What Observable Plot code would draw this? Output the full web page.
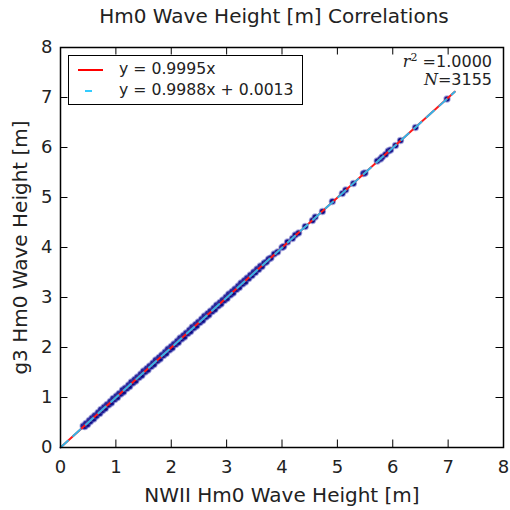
<!DOCTYPE html>
<html><head><meta charset="utf-8">
<script src="https://cdn.jsdelivr.net/npm/d3@7"></script>
<script src="https://cdn.jsdelivr.net/npm/@observablehq/plot@0.6"></script>
<style>
body{margin:0;background:#fff;font-family:"DejaVu Sans",sans-serif;color:#222;}
#wrap{position:relative;width:510px;height:510px;overflow:hidden;}
#title{position:absolute;left:0;top:4px;width:548px;text-align:center;font-size:20px;line-height:24px;color:#222;}
#chart{position:absolute;left:0;top:35px;}
#legend{position:absolute;left:68px;top:55px;width:233px;height:48px;border:1.5px solid #000;background:#fff;font-size:15.7px;}
.lrow{position:absolute;left:0;height:20px;line-height:20px;}
.lrow span{position:absolute;left:50px;white-space:nowrap;}
.sw{position:absolute;height:0;top:10px;border-top:2px solid;}
#ann{position:absolute;right:18px;top:49px;text-align:right;font-size:16px;line-height:18px;}
.m{font-family:"DejaVu Serif",serif;font-style:italic;}
.s{font-family:"DejaVu Serif",serif;}
</style></head>
<body>
<div id="wrap">
  <div id="title">Hm0 Wave Height [m] Correlations</div>
  <div id="chart"></div>
  <div id="legend">
    <div class="lrow" style="top:3px;width:230px"><div class="sw" style="left:9px;width:25px;border-color:#ff0000"></div><span>y = 0.9995x</span></div>
    <div class="lrow" style="top:24px;width:230px"><div class="sw" style="left:16px;width:7px;border-color:#33ccff"></div><span>y = 0.9988x + 0.0013</span></div>
  </div>
  <div id="ann">
    <div><span class="m">r</span><sup style="font-size:11px" class="s">2</sup> <span class="s">=</span>1.0000</div>
    <div><span class="m">N</span><span class="s">=</span>3155</div>
  </div>
</div>
<script>
// NWII (x) vs g3 (y) significant wave height samples
const hsNWII = [0.41,0.44,0.46,0.49,0.52,0.54,0.57,0.60,0.62,0.65,0.68,0.71,0.73,0.76,0.79,0.81,0.84,0.87,0.90,0.92,0.95,0.98,1.01,1.03,1.06,1.09,1.12,1.14,1.17,1.20,1.23,1.25,1.28,1.31,1.34,1.36,1.39,1.42,1.45,1.47,1.50,1.53,1.56,1.58,1.61,1.64,1.67,1.69,1.72,1.75,1.78,1.80,1.83,1.86,1.89,1.91,1.94,1.97,2.00,2.02,2.05,2.08,2.11,2.13,2.16,2.19,2.22,2.24,2.27,2.30,2.33,2.35,2.38,2.41,2.44,2.46,2.49,2.52,2.55,2.57,2.60,2.63,2.66,2.68,2.71,2.74,2.77,2.79,2.82,2.85,2.88,2.90,2.93,2.96,2.99,3.01,3.04,3.07,3.10,3.12,3.15,3.18,3.21,3.23,3.26,3.29,3.32,3.34,3.37,3.40,3.43,3.46,3.49,3.52,3.55,3.58,3.61,3.64,3.68,3.72,
  3.76,3.80,3.86,3.92,4.00,4.03,4.10,4.19,4.24,4.30,4.42,4.55,4.60,4.73,4.91,5.09,5.15,5.29,5.47,5.50,5.72,5.78,5.81,5.87,5.92,5.96,6.05,6.14,6.41,6.98];
const hsG3 = [0.43,0.42,0.48,0.46,0.54,0.52,0.59,0.57,0.64,0.63,0.70,0.68,0.76,0.74,0.81,0.78,0.86,0.85,0.92,0.89,0.98,0.96,1.03,1.00,1.08,1.07,1.15,1.11,1.19,1.18,1.25,1.22,1.31,1.29,1.36,1.33,1.41,1.40,1.47,1.44,1.53,1.51,1.58,1.55,1.63,1.62,1.69,1.66,1.75,1.73,1.80,1.77,1.85,1.84,1.91,1.88,1.97,1.95,2.02,1.99,2.07,2.06,2.13,2.10,2.19,2.17,2.24,2.21,2.29,2.28,2.35,2.32,2.41,2.39,2.46,2.43,2.51,2.50,2.57,2.54,2.63,2.61,2.68,2.65,2.73,2.72,2.79,2.76,2.85,2.83,2.90,2.87,2.95,2.94,3.01,2.98,3.07,3.05,3.12,3.09,3.17,3.16,3.23,3.20,3.29,3.27,3.34,3.31,3.39,3.38,3.45,3.44,3.51,3.50,3.57,3.56,3.63,3.62,3.69,3.71,
  3.77,3.79,3.87,3.91,4.00,4.02,4.11,4.18,4.25,4.29,4.42,4.54,4.61,4.72,4.92,5.08,5.15,5.28,5.48,5.49,5.73,5.77,5.81,5.86,5.93,5.95,6.04,6.14,6.40,6.97];
// regression fits
const fitNames = ["y = 0.9995x", "y = 0.9988x + 0.0013"];
const fitSlopes = [0.9995, 0.9988];
const fitIntercepts = [0, 0.0013];
const fitRange = [0, 7.12];
const xTicks = [0,1,2,3,4,5,6,7,8];
const yTicks = [0,1,2,3,4,5,6,7,8];

const pts = hsNWII.map((x,i)=>({x, y: hsG3[i]}));
const fitLine = k => fitRange.map(x=>({x, y: fitSlopes[k]*x + fitIntercepts[k]}));

const plot = Plot.plot({
  width: 510, height: 475,
  marginTop: 12, marginBottom: 63, marginLeft: 60, marginRight: 7,
  style: {fontSize: "18px", fontFamily: "DejaVu Sans, sans-serif", color: "#222", background: "#fff", overflow: "visible"},
  x: {domain: [0, 8]},
  y: {domain: [0, 8]},
  marks: [
    Plot.dot(pts, {x: "x", y: "y", r: 2.8, fill: "#0a0a80", stroke: "#4a4ab8", strokeOpacity: 0.45, strokeWidth: 1.8}),
    Plot.line(fitLine(0), {x: "x", y: "y", stroke: "#ff1a1a", strokeWidth: 2}),
    Plot.line(fitLine(1), {x: "x", y: "y", stroke: "#33b5e8", strokeWidth: 2, strokeDasharray: "10,7"}),
    Plot.ruleX(xTicks, {y1: 0, y2: 0.15, stroke: "#000"}),
    Plot.ruleX(xTicks, {y1: 7.85, y2: 8, stroke: "#000"}),
    Plot.ruleY(yTicks, {x1: 0, x2: 0.135, stroke: "#000"}),
    Plot.ruleY(yTicks, {x1: 7.865, x2: 8, stroke: "#000"}),
    Plot.frame({stroke: "#000", strokeWidth: 1.5}),
    Plot.axisX(xTicks, {tickSize: 0, tickPadding: 13, tickFormat: d3.format("d"), label: null}),
    Plot.axisY(yTicks, {tickSize: 0, tickPadding: 8, tickFormat: d3.format("d"), label: null}),
    Plot.axisX(xTicks, {tickSize: 0, ticks: [], tickFormat: () => "", label: "NWII Hm0 Wave Height [m]", labelAnchor: "center", labelArrow: "none", labelOffset: 54, fontSize: 20}),
    Plot.axisY(yTicks, {tickSize: 0, ticks: [], tickFormat: () => "", label: "g3 Hm0 Wave Height [m]", labelAnchor: "center", labelArrow: "none", labelOffset: 48, fontSize: 20})
  ]
});
document.getElementById("chart").appendChild(plot);
</script>
</body></html>
